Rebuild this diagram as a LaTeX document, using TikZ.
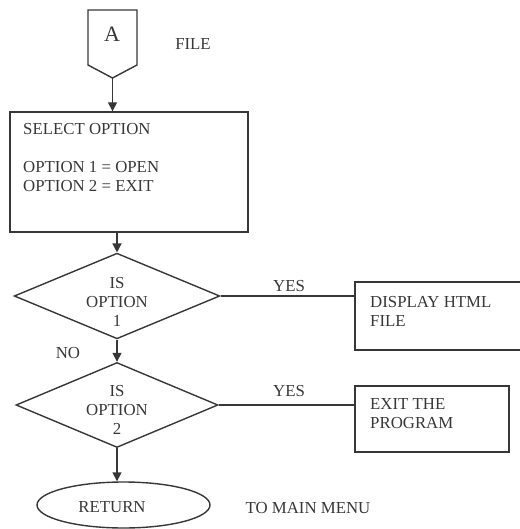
\documentclass[tikz,border=0pt]{standalone}
\usepackage{fontspec}
\setmainfont{Liberation Serif}
\usetikzlibrary{shapes.geometric,arrows.meta}
\definecolor{ink}{RGB}{55,55,55}
\begin{document}
\begin{tikzpicture}[x=1pt,y=-1pt,
	every node/.style={text=ink,font=\fontsize{16.8}{19}\selectfont},
	box/.style={draw=ink,line width=1.4pt,rectangle,inner sep=0pt},
	decision/.style={draw=ink,line width=1.4pt,diamond,aspect=2.4,inner sep=0pt,minimum width=202pt,minimum height=85pt,align=center},
	term/.style={draw=ink,line width=1.4pt,ellipse,inner sep=0pt,minimum width=173pt,minimum height=46pt},
	txt/.style={align=left,anchor=north west,inner sep=0pt},
	ln/.style={draw=ink,line width=1.4pt},
	arr/.style={ln,-{Triangle[length=9pt,width=9pt]}}]
	\useasboundingbox (0,0) rectangle (519,529);
	\draw[ln] (88,10) -- (137,10) -- (137,65) -- (112.5,78) -- (88,65) -- cycle;
	\coordinate (ptip) at (112.5,78);
	\node[font=\fontsize{22}{24}\selectfont] (a) at (112,34) {A};
	\node (file) at (193,44) {FILE};
	\node[box,minimum width=238pt,minimum height=120pt] (sel) at (129,172) {};
	\node[txt] (seltxt) at (23,123) {SELECT OPTION\\[19pt]OPTION 1 = OPEN\\OPTION 2 = EXIT};
	\node[decision] (d1) at (117,296) {\rule{0pt}{22pt}IS\\OPTION\\1};
	\node[decision] (d2) at (117,405) {\rule{0pt}{20pt}IS\\OPTION\\2};
	\node[box,minimum width=170pt,minimum height=68pt] (disp) at (440,316) {};
	\node[txt] (disptxt) at (370,296) {DISPLAY HTML\\FILE};
	\node[box,minimum width=154pt,minimum height=66pt] (exit) at (432,419) {};
	\node[txt] (exittxt) at (370,398) {EXIT THE\\PROGRAM};
	\node[term] (ret) at (123.5,505) {};
	\node (rettxt) at (112,507) {RETURN};
	\node (menu) at (308,508) {TO MAIN MENU};
	\node (yes1) at (289,286) {YES};
	\node (yes2) at (289,391) {YES};
	\node (no) at (68,353) {NO};
	\draw[arr] (ptip) -- (ptip |- sel.north);
	\draw[arr] (d1.north |- sel.south) -- (d1.north);
	\draw[ln] (d1.east) -- (disp.west |- d1.east);
	\draw[arr] (d1.south) -- (d2.north);
	\draw[ln] (d2.east) -- (exit.west |- d2.east);
	\draw[arr] (d2.south) -- (d2.south |- ret.north);
\end{tikzpicture}
\end{document}
